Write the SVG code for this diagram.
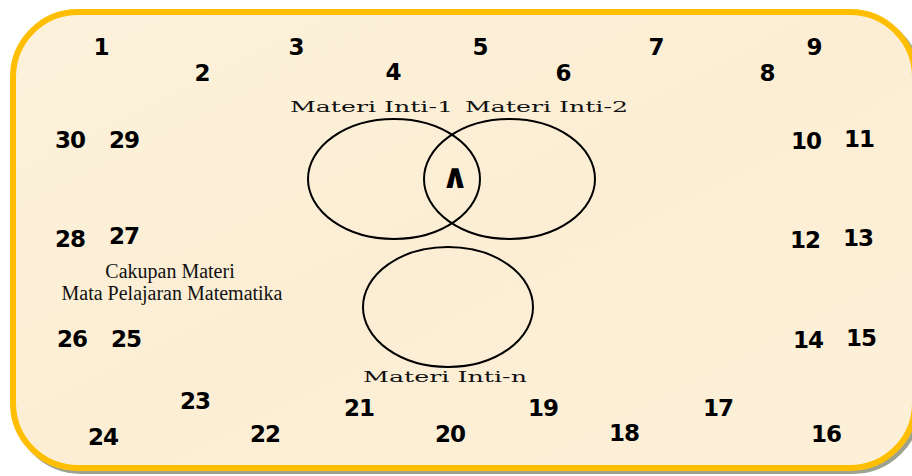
<svg xmlns="http://www.w3.org/2000/svg" width="912" height="476" viewBox="0 0 912 476">
<defs>
<style>
.num{font-family:"DejaVu Sans",Verdana,sans-serif;font-weight:bold;font-size:23px;fill:#000;text-anchor:middle;letter-spacing:-1px}
.lbl{font-family:"DejaVu Serif","Liberation Serif",serif;font-size:15px;fill:#111}
.cap{font-family:"Liberation Serif","Times New Roman",serif;font-size:20px;fill:#111;text-anchor:middle}
.ell{fill:none;stroke:#000;stroke-width:2}
</style>
<linearGradient id="bg" x1="0" y1="0" x2="1" y2="1">
<stop offset="0" stop-color="#FCF1DB"/>
<stop offset="0.5" stop-color="#FBEED4"/>
<stop offset="1" stop-color="#FCF0D8"/>
</linearGradient>
</defs>
<rect width="912" height="476" fill="#ffffff"/>
<g id="frame">
<rect x="16" y="15" width="902" height="456" rx="65" fill="none" stroke="#9DA38E" stroke-width="6"/>
<rect x="13" y="12" width="902" height="456" rx="65" fill="url(#bg)" stroke="#FFBF00" stroke-width="6"/>
</g>
<g id="venn">
<g id="inti1"><ellipse class="ell" cx="394" cy="179" rx="86" ry="60"/>
<text class="lbl" x="290" y="112" textLength="163" lengthAdjust="spacingAndGlyphs">Materi Inti-1</text></g>
<g id="inti2"><ellipse class="ell" cx="509.5" cy="179" rx="85.5" ry="60"/>
<text class="lbl" x="465" y="112" textLength="163" lengthAdjust="spacingAndGlyphs">Materi Inti-2</text></g>
<g id="intin"><ellipse class="ell" cx="448" cy="307" rx="85" ry="60"/>
<text class="lbl" x="363" y="382" textLength="164" lengthAdjust="spacingAndGlyphs">Materi Inti-n</text></g>
<g id="irisan"><text x="455" y="188" style="font-family:'DejaVu Sans',sans-serif;font-weight:bold;font-size:34px;text-anchor:middle">∧</text></g>
</g>
<g id="caption">
<text class="cap" x="170" y="278">Cakupan Materi</text>
<text class="cap" x="172" y="300">Mata Pelajaran Matematika</text>
</g>
<g id="numbers">
<text class="num" id="n1" x="101" y="55">1</text>
<text class="num" id="n2" x="202" y="81">2</text>
<text class="num" id="n3" x="296" y="55">3</text>
<text class="num" id="n4" x="393" y="80">4</text>
<text class="num" id="n5" x="480" y="55">5</text>
<text class="num" id="n6" x="563" y="81">6</text>
<text class="num" id="n7" x="656" y="55">7</text>
<text class="num" id="n8" x="767" y="81">8</text>
<text class="num" id="n9" x="814" y="55">9</text>
<text class="num" id="n10" x="806" y="149">10</text>
<text class="num" id="n11" x="859" y="147">11</text>
<text class="num" id="n12" x="805" y="248">12</text>
<text class="num" id="n13" x="858" y="246">13</text>
<text class="num" id="n14" x="808" y="348">14</text>
<text class="num" id="n15" x="861" y="346">15</text>
<text class="num" id="n16" x="826" y="442">16</text>
<text class="num" id="n17" x="718" y="416">17</text>
<text class="num" id="n18" x="624" y="441">18</text>
<text class="num" id="n19" x="543" y="416">19</text>
<text class="num" id="n20" x="450" y="442">20</text>
<text class="num" id="n21" x="359" y="416">21</text>
<text class="num" id="n22" x="265" y="442">22</text>
<text class="num" id="n23" x="195" y="409">23</text>
<text class="num" id="n24" x="103" y="445">24</text>
<text class="num" id="n25" x="126" y="347">25</text>
<text class="num" id="n26" x="72" y="347">26</text>
<text class="num" id="n27" x="124" y="244">27</text>
<text class="num" id="n28" x="70" y="247">28</text>
<text class="num" id="n29" x="124" y="148">29</text>
<text class="num" id="n30" x="70" y="148">30</text>
</g>
</svg>
